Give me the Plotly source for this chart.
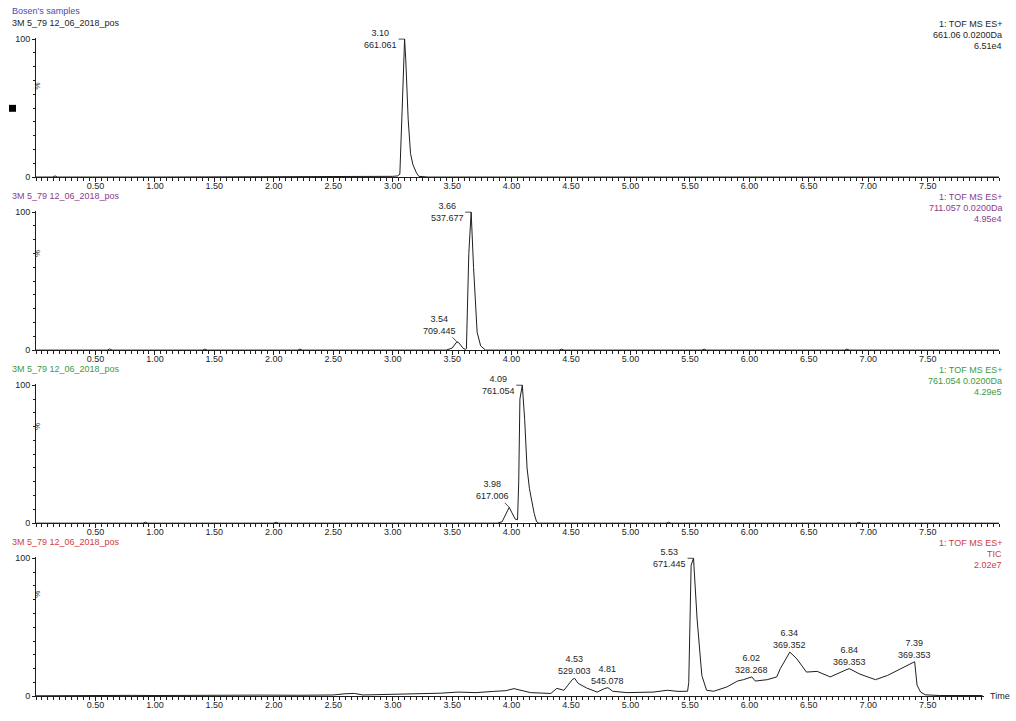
import plotly.graph_objects as go

W, H = 1016, 721

# ---- chromatogram data (retention time in min, relative intensity in %) ----
rt_661 = [0.00, 0.14, 0.16, 0.18, 1.00, 2.00, 2.90, 3.00, 3.04, 3.06, 3.08, 3.10,
          3.11, 3.13, 3.15, 3.17, 3.20, 3.22, 3.30, 5.00, 8.10]
int_661 = [0.0, 0.0, 0.8, 0.0, 0.0, 0.0, 0.0, 0.5, 0.8, 2.0, 50.0, 100.0,
           85.0, 42.0, 17.0, 9.0, 3.0, 0.5, 0.0, 0.0, 0.0]

rt_711 = [0.00, 0.60, 0.62, 0.64, 1.40, 1.42, 1.44, 2.20, 2.22, 2.24, 3.00, 3.45,
          3.50, 3.54, 3.56, 3.59, 3.61, 3.62, 3.64, 3.66, 3.68, 3.69, 3.70, 3.71,
          3.74, 3.78, 4.40, 4.42, 4.44, 5.60, 5.62, 5.64, 6.80, 6.82, 6.84, 8.10]
int_711 = [0.0, 0.0, 0.8, 0.0, 0.0, 0.7, 0.0, 0.0, 0.7, 0.0, 0.0, 0.0,
           1.5, 6.0, 5.0, 1.5, 0.5, 1.0, 70.0, 100.0, 60.0, 45.0, 27.0, 13.0,
           3.0, 0.0, 0.0, 0.7, 0.0, 0.0, 0.7, 0.0, 0.0, 0.7, 0.0, 0.0]

rt_761 = [0.00, 0.90, 0.92, 0.94, 2.00, 2.02, 2.04, 3.00, 3.88, 3.92, 3.95, 3.98,
          4.00, 4.03, 4.05, 4.06, 4.07, 4.09, 4.11, 4.13, 4.15, 4.17, 4.19, 4.21,
          4.23, 5.30, 5.32, 5.34, 6.90, 6.92, 6.94, 8.10]
int_761 = [0.0, 0.0, 0.7, 0.0, 0.0, 0.7, 0.0, 0.0, 0.0, 1.0, 6.0, 11.5,
           8.0, 3.0, 2.5, 30.0, 90.0, 100.0, 75.0, 40.0, 25.0, 16.0, 7.0, 1.0,
           0.0, 0.0, 0.7, 0.0, 0.0, 0.7, 0.0, 0.0]

rt_tic = [0.00, 0.20, 0.50, 0.80, 1.00, 1.30, 1.60, 1.90, 2.20, 2.50, 2.60, 2.68,
          2.75, 3.00, 3.20, 3.40, 3.55, 3.70, 3.85, 3.95, 4.02, 4.07, 4.16, 4.33,
          4.38, 4.44, 4.51, 4.53, 4.56, 4.63, 4.72, 4.78, 4.81, 4.85, 4.97, 5.19,
          5.31, 5.40, 5.48, 5.49, 5.50, 5.51, 5.53, 5.56, 5.60, 5.64, 5.70, 5.81,
          5.90, 5.95, 6.02, 6.05, 6.15, 6.23, 6.26, 6.34, 6.40, 6.48, 6.57, 6.68,
          6.81, 6.84, 6.93, 7.06, 7.16, 7.27, 7.37, 7.39, 7.41, 7.44, 7.48, 7.60,
          7.96]
int_tic = [0.3, 0.5, 0.4, 0.6, 0.5, 0.7, 0.6, 0.8, 0.7, 0.9, 1.8, 2.0,
           0.9, 1.2, 1.8, 2.2, 3.0, 2.6, 3.5, 4.0, 5.5, 4.3, 2.6, 2.0,
           5.7, 4.3, 12.0, 13.0, 9.3, 6.0, 3.0, 5.5, 6.2, 3.6, 2.6, 3.0,
           4.3, 3.5, 3.6, 10.0, 60.0, 95.0, 100.0, 56.0, 15.0, 4.3, 3.6, 6.7,
           11.0, 12.0, 14.0, 11.0, 12.0, 14.0, 20.0, 32.0, 27.0, 17.5, 18.0, 14.0,
           19.0, 20.0, 16.0, 12.0, 15.0, 20.0, 24.5, 25.0, 8.0, 3.0, 1.0, 0.5,
           0.5]

# ---- peak labels: retention time, m/z ----
pk_661_rt = [3.10]
pk_661_mz = ["661.061"]
pk_711_rt = [3.66, 3.54]
pk_711_mz = ["537.677", "709.445"]
pk_761_rt = [4.09, 3.98]
pk_761_mz = ["761.054", "617.006"]
pk_tic_rt = [5.53, 4.53, 4.81, 6.02, 6.34, 6.84, 7.39]
pk_tic_mz = ["671.445", "529.003", "545.078", "328.268", "369.352", "369.353", "369.353"]

# ---- panel header text ----
sample_name = "3M 5_79 12_06_2018_pos"
project_name = "Bosen's samples"
info_lines = [
    ["1: TOF MS ES+", "661.06 0.0200Da", "6.51e4"],
    ["1: TOF MS ES+", "711.057 0.0200Da", "4.95e4"],
    ["1: TOF MS ES+", "761.054 0.0200Da", "4.29e5"],
    ["1: TOF MS ES+", "TIC", "2.02e7"],
]
x_tick_vals = [0.5, 1.0, 1.5, 2.0, 2.5, 3.0, 3.5, 4.0, 4.5, 5.0, 5.5, 6.0, 6.5, 7.0, 7.5]
x_tick_text = ["0.50", "1.00", "1.50", "2.00", "2.50", "3.00", "3.50", "4.00",
               "4.50", "5.00", "5.50", "6.00", "6.50", "7.00", "7.50"]

FONT = "Liberation Sans, Arial, sans-serif"
INK = "#1e1e1e"
panel_colors = ["#1e1e1e", "#8c3c8c", "#3e9a3e", "#d23c3c"]

# pixel geometry
X_LEFT = 36
PX_PER_MIN = 118.9
X_RIGHT = [999, 999, 999, 984]
ZERO_PX = [176, 351, 526, 701]
PX_PER_PCT = 1.395
Y_TOP = 101.0


def px(xp):
    return xp / W


def py(yp):
    return 1 - yp / H


series = [(rt_661, int_661), (rt_711, int_711), (rt_761, int_761), (rt_tic, int_tic)]
peaks = [(pk_661_rt, pk_661_mz), (pk_711_rt, pk_711_mz),
         (pk_761_rt, pk_761_mz), (pk_tic_rt, pk_tic_mz)]

fig = go.Figure()
layout = dict(
    width=W, height=H,
    margin=dict(l=0, r=0, t=0, b=0),
    paper_bgcolor="white", plot_bgcolor="white",
    showlegend=False,
    font=dict(family=FONT, size=9, color=INK),
)
annotations = []
shapes = []

for i, (rt, inten) in enumerate(series):
    n = "" if i == 0 else str(i + 1)
    xa, ya = "x" + n, "y" + n
    fig.add_trace(go.Scatter(x=rt, y=inten, mode="lines", xaxis=xa, yaxis=ya,
                             line=dict(color=INK, width=1), hoverinfo="skip"))
    z = ZERO_PX[i]
    top = z - PX_PER_PCT * Y_TOP
    x_max = (X_RIGHT[i] - X_LEFT) / PX_PER_MIN
    layout["xaxis" + n] = dict(
        domain=[px(X_LEFT), px(X_RIGHT[i])], range=[0, x_max], anchor=ya,
        showline=True, linecolor=INK, linewidth=1, showgrid=False, zeroline=False,
        tickmode="array", tickvals=x_tick_vals, ticktext=x_tick_text,
        ticks="outside", ticklen=4, tickcolor=INK, tickwidth=1,
        ticklabelstandoff=-4,
        tickfont=dict(size=9, color=INK),
        minor=dict(dtick=0.05, tick0=0, ticks="outside", ticklen=3,
                   tickcolor=INK, tickwidth=1),
    )
    layout["yaxis" + n] = dict(
        domain=[py(z), py(top)], range=[0, Y_TOP], anchor=xa,
        showline=True, linecolor=INK, linewidth=1, showgrid=False, zeroline=False,
        tickmode="array", tickvals=[0, 100], ticktext=["0", "100"],
        ticks="outside", ticklen=3, tickcolor=INK, tickwidth=1,
        tickfont=dict(size=9, color=INK),
        minor=dict(tickmode="array", tickvals=[10, 20, 30, 40, 50, 60, 70, 80, 90],
                   ticks="outside", ticklen=2, tickcolor=INK, tickwidth=1),
    )

    # "%" axis label
    annotations.append(dict(xref="paper", yref="paper", x=px(31), y=py(z - 70 * PX_PER_PCT),
                            text="%", showarrow=False, textangle=-90,
                            font=dict(size=8, color=INK)))
    # sample name over each panel
    annotations.append(dict(xref="paper", yref="paper", x=px(10), y=py(z - 156),
                            text=sample_name, showarrow=False, xanchor="left",
                            yanchor="middle", font=dict(size=9, color=panel_colors[i])))
    # acquisition info, right-aligned
    for k, line in enumerate(info_lines[i]):
        annotations.append(dict(xref="paper", yref="paper", x=px(1004),
                                y=py(z - 155 + 11 * k), text=line, showarrow=False,
                                xanchor="right", yanchor="middle",
                                font=dict(size=9, color=panel_colors[i])))

    # peak labels
    pk_rt, pk_mz = peaks[i]
    for rt_val, mz in zip(pk_rt, pk_mz):
        j = min(range(len(rt)), key=lambda q: abs(rt[q] - rt_val))
        val = inten[j]
        label = f"{rt_val:.2f}<br>{mz}"
        if val >= 99:
            annotations.append(dict(xref=xa, yref=ya, x=rt_val, y=val, text=label,
                                    showarrow=True, arrowhead=0, arrowwidth=0.8,
                                    arrowcolor=INK, ax=-24, ay=0, standoff=0,
                                    font=dict(size=9, color=INK)))
        elif i in (1, 2):
            annotations.append(dict(xref=xa, yref=ya, x=rt_val, y=val, text=label,
                                    showarrow=True, arrowhead=0, arrowwidth=0.8,
                                    arrowcolor=INK, ax=-17, ay=-17, standoff=0,
                                    font=dict(size=9, color=INK)))
        else:
            annotations.append(dict(xref=xa, yref=ya, x=rt_val, y=val, text=label,
                                    showarrow=False, xanchor="center", yanchor="bottom",
                                    yshift=0, font=dict(size=9, color=INK)))

# project header
annotations.append(dict(xref="paper", yref="paper", x=px(10), y=py(8),
                        text=project_name, showarrow=False, xanchor="left",
                        yanchor="middle", font=dict(size=9, color="#4a4ab4")))
# time axis caption
annotations.append(dict(xref="paper", yref="paper", x=px(988), y=py(701),
                        text="Time", showarrow=False, xanchor="left",
                        yanchor="middle", font=dict(size=9, color=INK)))
# small marker square at the left of the first panel
shapes.append(dict(type="rect", xref="paper", yref="paper",
                   x0=px(9), x1=px(16), y0=py(110), y1=py(103),
                   fillcolor="black", line=dict(width=0)))

layout["annotations"] = annotations
layout["shapes"] = shapes
fig.update_layout(**layout)
fig.write_html("out.html")
